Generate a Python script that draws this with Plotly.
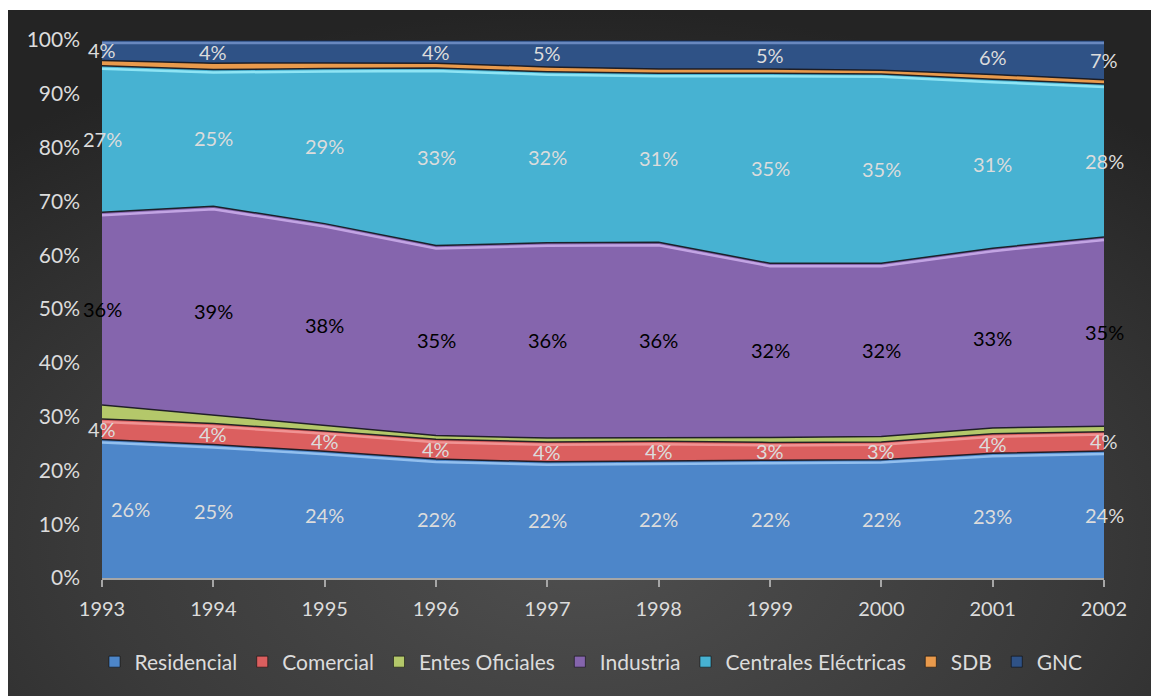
import base64
import plotly.graph_objects as go

# Consumo por sector, participación anual (%)
years = [1993, 1994, 1995, 1996, 1997, 1998, 1999, 2000, 2001, 2002]
residencial = [25.8, 24.8, 23.6, 22.1, 21.6, 21.8, 21.9, 22.0, 23.2, 23.6]
comercial = [3.8, 3.9, 3.8, 3.7, 3.7, 3.6, 3.3, 3.3, 3.6, 3.6]
entes_oficiales = [2.6, 1.6, 1.0, 0.7, 0.7, 0.6, 0.9, 1.0, 1.1, 1.0]
industria = [35.9, 38.8, 37.6, 35.3, 36.3, 36.4, 32.4, 32.2, 33.4, 35.2]
centrales = [27.3, 25.4, 28.9, 33.0, 31.8, 31.4, 35.3, 35.2, 31.4, 28.4]
sdb = [1.0, 1.2, 1.0, 0.9, 0.9, 0.8, 0.8, 0.7, 0.9, 0.8]
gnc = [3.8, 4.3, 4.3, 4.3, 5.0, 5.4, 5.4, 5.6, 6.4, 7.4]

y_ticks = [0, 10, 20, 30, 40, 50, 60, 70, 80, 90, 100]

# name, values, fill colour, edge highlight (None = none), label colour (None = no labels), labelled years
series = [
    ("Residencial", residencial, "#4d86c9", "rgba(170,210,250,0.75)", "#dcdcdc", years),
    ("Comercial", comercial, "#db5f5f", "rgba(250,170,170,0.7)", "#dcdcdc", years),
    ("Entes Oficiales", entes_oficiales, "#b4c86a", None, None, []),
    ("Industria", industria, "#8565ad", "rgba(215,185,245,0.75)", "#000000", years),
    ("Centrales Eléctricas", centrales, "#47b2d2", "rgba(160,240,252,0.8)", "#dcdcdc", years),
    ("SDB", sdb, "#e99a4c", None, None, []),
    ("GNC", gnc, "#2f5286", "rgba(120,150,205,0.8)", "#dcdcdc",
     [1993, 1994, 1996, 1997, 1999, 2001, 2002]),
]

FONT = "Lato, 'Open Sans', sans-serif"
TEXT = "#dcdcdc"

fig = go.Figure()

for name, vals, color, _, _, _ in series:
    fig.add_trace(go.Scatter(
        x=years, y=vals, name=name, mode="lines",
        stackgroup="one", groupnorm="percent",
        fillcolor=color,
        line=dict(color="rgba(22,22,30,0.9)", width=1.5),
        showlegend=False,
        hovertemplate=name + ": %{y:.1f}%<extra></extra>",
    ))

# normalised cumulative tops of every band
totals = [sum(s[1][i] for s in series) for i in range(len(years))]
bottoms, tops = [], []
run = [0.0] * len(years)
for _, vals, *_ in series:
    bottoms.append(run[:])
    run = [run[i] + vals[i] / totals[i] * 100 for i in range(len(years))]
    tops.append(run[:])

# soft bevel highlight just under the top edge of the wider bands
for k, (name, vals, color, hi, _, _) in enumerate(series):
    if hi is None:
        continue
    fig.add_trace(go.Scatter(
        x=years, y=[t - 0.55 for t in tops[k]], mode="lines",
        line=dict(color=hi, width=2.5), showlegend=False, hoverinfo="skip",
    ))

# legend entries drawn as small squares
for name, vals, color, _, _, _ in series:
    fig.add_trace(go.Scatter(
        x=[None], y=[None], name=name, mode="markers",
        marker=dict(symbol="square", size=11, color=color,
                    line=dict(color="rgba(0,0,0,0.5)", width=1)),
        showlegend=True,
    ))

# value labels centred in each band
annotations = []
for k, (name, vals, color, hi, lab_color, lab_years) in enumerate(series):
    if lab_color is None:
        continue
    for i, yr in enumerate(years):
        if yr not in lab_years:
            continue
        shift = 28 if (k == 0 and i == 0) else 0
        annotations.append(dict(
            x=yr, y=(bottoms[k][i] + tops[k][i]) / 2, xref="x", yref="y",
            xshift=shift,
            text=f"{int(vals[i] + 0.5)}%", showarrow=False,
            font=dict(family=FONT, size=20, color=lab_color),
        ))

# dark radial backdrop
svg = (
    '<svg xmlns="http://www.w3.org/2000/svg" width="1143" height="686" '
    'preserveAspectRatio="none"><defs><radialGradient id="g" cx="50%" cy="78%" r="78%">'
    '<stop offset="0" stop-color="#4f4f4f"/><stop offset="0.55" stop-color="#3a3a3a"/>'
    '<stop offset="1" stop-color="#242424"/></radialGradient></defs>'
    '<rect width="1143" height="686" fill="url(#g)"/></svg>'
)
bg_src = "data:image/svg+xml;base64," + base64.b64encode(svg.encode()).decode()

W, H = 1151, 696
L, R, T, B = 102, 47, 40, 118
pw, ph = W - L - R, H - T - B

fig.update_layout(
    width=W, height=H,
    margin=dict(l=L, r=R, t=T, b=B),
    paper_bgcolor="white",
    plot_bgcolor="rgba(0,0,0,0)",
    font=dict(family=FONT, size=20, color=TEXT),
    images=[dict(
        source=bg_src, xref="paper", yref="paper",
        x=(8 - L) / pw, y=(H - B - 10) / ph,
        sizex=(W - 8) / pw, sizey=(H - 10) / ph,
        xanchor="left", yanchor="top", sizing="stretch", layer="below",
    )],
    xaxis=dict(
        range=[years[0], years[-1]], tickmode="array", tickvals=years,
        ticktext=[str(y) for y in years],
        showgrid=False, zeroline=False,
        showline=True, linecolor="#a6a6a6", linewidth=2,
        ticks="outside", ticklen=7, tickwidth=2, tickcolor="#a6a6a6",
        tickfont=dict(family=FONT, size=20, color=TEXT),
        ticklabelstandoff=5,
    ),
    yaxis=dict(
        range=[0, 100], tickmode="array", tickvals=y_ticks,
        ticktext=[f"{v}%" for v in y_ticks],
        showgrid=False, zeroline=False, showline=False,
        tickfont=dict(family=FONT, size=21, color=TEXT),
        ticklabelstandoff=21,
    ),
    legend=dict(
        orientation="h", x=(591 - L) / pw, xanchor="center",
        y=(H - B - 662) / ph, yanchor="middle",
        traceorder="normal", itemwidth=30,
        font=dict(family=FONT, size=21, color=TEXT),
        bgcolor="rgba(0,0,0,0)",
    ),
    annotations=annotations,
    hovermode="x",
)

fig.write_html("out.html")
